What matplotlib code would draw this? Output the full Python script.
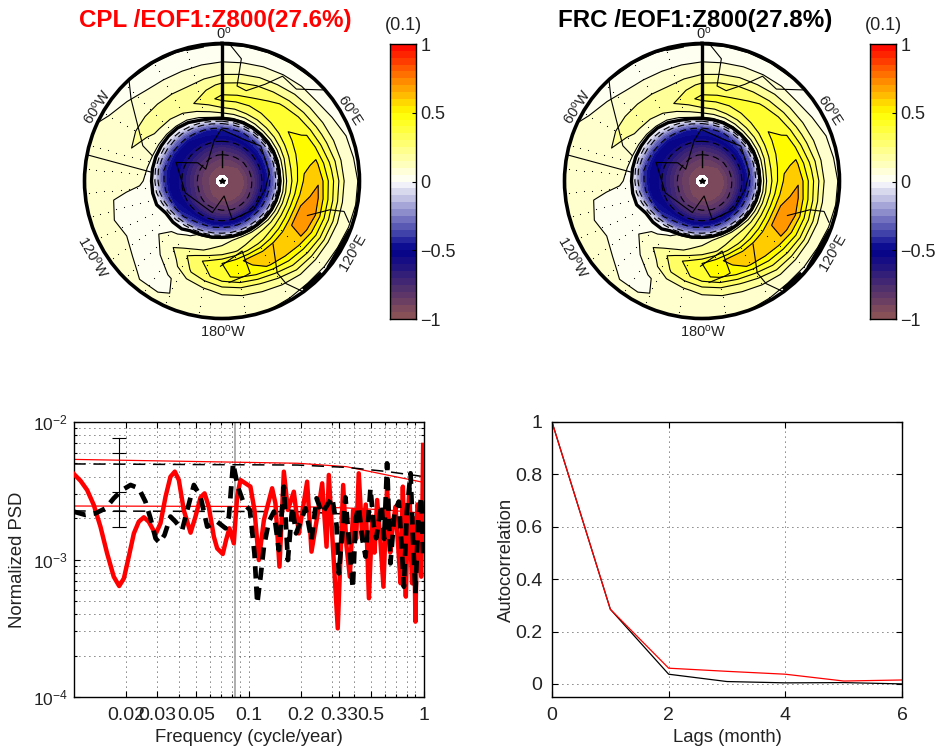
import numpy as np
import matplotlib
matplotlib.use('Agg')
import matplotlib.pyplot as plt
from matplotlib.colors import LinearSegmentedColormap, Normalize
from matplotlib.ticker import NullFormatter

plt.rcParams['font.family'] = ['Liberation Sans', 'DejaVu Sans']
plt.rcParams['mathtext.fontset'] = 'custom'
plt.rcParams['mathtext.rm'] = 'Liberation Sans'
plt.rcParams['mathtext.default'] = 'rm'
plt.rcParams['axes.unicode_minus'] = True

W, H = 936, 747

# EOF map, rows are radius (pole to rim), columns are angle clockwise from top, every 10 deg
map_theta = list(range(0, 360, 10))
map_r = [.05, .15, .25, .32, .38, .43, .47, .52, .6, .7, .8, .9, 1.]
eof_field = [
    [-.95] * 36,
    [-.87, -.87, -.88, -.88, -.89, -.9, -.9, -.91, -.92, -.92, -.93, -.93, -.93, -.93, -.92, -.92, -.92, -.91,
     -.9, -.9, -.89, -.89, -.88, -.87, -.86, -.85, -.85, -.85, -.85, -.85, -.85, -.85, -.85, -.86, -.86, -.87],
    [-.7, -.7, -.7, -.71, -.71, -.72, -.72, -.73, -.73, -.74, -.74, -.74, -.75, -.75, -.75, -.75, -.75, -.74,
     -.74, -.73, -.73, -.72, -.72, -.71, -.7, -.69, -.68, -.68, -.68, -.68, -.68, -.68, -.68, -.69, -.69, -.7],
    [-.52, -.52, -.52, -.52, -.51, -.51, -.5, -.5, -.5, -.5, -.5, -.5, -.5, -.5, -.49, -.49, -.49, -.49,
     -.49, -.5, -.5, -.5, -.51, -.52, -.53, -.54, -.55, -.55, -.55, -.55, -.55, -.55, -.54, -.54, -.53, -.53],
    [-.43, -.42, -.41, -.39, -.37, -.35, -.32, -.3, -.28, -.28, -.28, -.26, -.24, -.22, -.2, -.2, -.2, -.2,
     -.2, -.22, -.25, -.3, -.36, -.42, -.47, -.5, -.52, -.52, -.52, -.52, -.52, -.5, -.5, -.48, -.47, -.45],
    [-.125, -.11, -.1, -.075, -.05, -.025, .001, .03, .06, .06, .06, .08, .1, .12, .15, .15, .15, .14,
     .13, .1, .08, .02, -.05, -.125, -.2, -.275, -.35, -.375, -.4, -.375, -.35, -.325, -.3, -.25, -.2, -.15],
    [.075, .09, .1, .125, .15, .175, .2, .22, .25, .25, .25, .26, .27, .27, .27, .25, .22, .19,
     .15, .12, .1, .06, .03, .015, .001, -.075, -.15, -.175, -.2, -.175, -.15, -.125, -.1, -.05, .001, .05],
    [.22, .23, .25, .27, .3, .32, .34, .36, .38, .38, .4, .42, .42, .4, .37, .33, .28, .24,
     .2, .17, .13, .09, .06, .04, .03, .03, .03, .03, .03, .03, .035, .04, .05, .07, .12, .17],
    [.38, .38, .38, .4, .42, .44, .47, .5, .53, .57, .62, .66, .66, .62, .6, .58, .58, .52,
     .45, .38, .3, .2, .12, .05, .03, .03, .03, .06, .08, .12, .14, .16, .17, .2, .25, .32],
    [.27, .29, .31, .33, .36, .4, .44, .5, .57, .64, .68, .72, .68, .62, .58, .56, .52, .48,
     .42, .32, .24, .12, .05, .03, .03, .03, .04, .07, .11, .15, .17, .18, .18, .18, .18, .22],
    [.11, .13, .15, .16, .18, .2, .23, .27, .33, .38, .4, .42, .42, .38, .35, .28, .24, .22,
     .18, .13, .08, .04, .03, .04, .05, .04, .05, .07, .08, .09, .09, .08, .08, .08, .08, .09],
    [.02, .02, .03, .04, .05, .05, .06, .08, .1, .12, .12, .13, .12, .12, .12, .1, .08, .07,
     .07, .06, .055, .045, .045, .06, .07, .07, .07, .07, .08, .07, .06, .05, .03, .02, .02, .02],
    [0, 0, 0, 0, 0, .01, .02, .03, .03, .04, .04, .03, .02, .02, .02, .04, .05, .06,
     .06, .06, .06, .06, .06, .06, .06, .06, .06, .07, .07, .06, .04, .02, 0, 0, 0, 0],
]
cpl_title = 'CPL /EOF1:Z800(27.6%)'
frc_title = 'FRC /EOF1:Z800(27.8%)'

# coast outlines as (angle, radius)
coast_west = ([317, 312, 294, 290], [.99, .89, .63, .54])
coast_meridian = ([281, 277], [1., .51])
coast_top = ([3, 9, 9, 15, 24, 30, 39, 48], [1., .9, .7, .68, .77, .88, .86, .99])
coast_lower = ([141, 149, 148, 144], [.59, .78, .88, .99])
coast_east = ([112, 105, 104, 108], [.67, .81, .915, .97])
coast_south = ([181, 164, 163, 166, 176], [.62, .53, .7, .71, .74])
coast_inner = ([292, 307, 306, 349, 359, 26, 48, 80, 101, 132, 165, 172, 197, 252, 292],
               [.36, .22, .146, .3, .376, .34, .38, .35, .32, .31, .29, .11, .24, .28, .36])
coasts = [coast_west, coast_meridian, coast_top, coast_lower, coast_east, coast_south, coast_inner]

stipple_theta = [130, 150, 170, 190, 205, 215, 225, 235, 245, 255, 265, 275, 285, 300, 315, 330, 345]
stipple_r = [.56, .62, .68, .74, .8, .86, .92, .97]

# spectrum, log10 values
red_logf = [-1.998, -1.96, -1.922, -1.884, -1.846, -1.808, -1.77, -1.739, -1.712, -1.684, -1.655, -1.627,
            -1.598, -1.57, -1.531, -1.503, -1.474, -1.446, -1.421, -1.398, -1.37, -1.331, -1.303, -1.274,
            -1.251, -1.227, -1.198, -1.179, -1.147, -1.128, -1.109, -1.084, -1.065, -1.046,
            -.989, -.966, -.941, -.912, -.865, -.846, -.823, -.798, -.775, -.741, -.712, -.665, -.64,
            -.604, -.579, -.554, -.541, -.522, -.49, -.459, -.44, -.421, -.402, -.385, -.37, -.35, -.33, -.312,
            -.293, -.28, -.265, -.247, -.229, -.208, -.19, -.175, -.16, -.145, -.131, -.118, -.11, -.101,
            -.09, -.08, -.072, -.065, -.055, -.046, -.035, -.027, -.02, -.013, -.007, -.002]
red_logp = [-2.378, -2.427, -2.495, -2.604, -2.761, -2.955, -3.125, -3.193, -3.137, -2.979, -2.81, -2.725,
            -2.693, -2.725, -2.817, -2.737, -2.543, -2.398, -2.361, -2.422, -2.64, -2.805, -2.688, -2.548,
            -2.519, -2.616, -2.834, -2.919, -2.96, -2.858, -2.773, -2.882, -2.543, -2.422,
            -2.47, -2.64, -3.004, -2.713, -2.482, -2.592, -3.052, -2.361, -2.64, -2.507, -2.81, -2.434, -2.943,
            -2.664, -2.446, -2.907, -2.385, -2.81, -3.501, -2.458, -2.9, -3.125, -2.64, -2.85, -2.373, -2.834, -2.6, -3.282,
            -2.688, -2.95, -2.567, -2.85, -3.198, -2.47, -2.95, -2.75, -2.616, -2.9, -3.173, -2.47, -2.9, -3.27,
            -2.7, -2.482, -2.95, -3.173, -2.7, -3.452, -2.6, -2.64, -3., -3.125, -2.7, -2.167]
black_logf = [-1.998, -1.931, -1.874, -1.817, -1.77, -1.722, -1.674, -1.627, -1.589, -1.56, -1.531, -1.509,
              -1.48, -1.446, -1.417, -1.379, -1.35, -1.312, -1.274, -1.236, -1.179, -1.131, -1.112, -1.088,
              -1.061, -1.027, -.992, -.966, -.95, -.931, -.912, -.884, -.855, -.827, -.798, -.775, -.75,
              -.728, -.674, -.64, -.611, -.579, -.522, -.497, -.484, -.446, -.404, -.387, -.37, -.35, -.331, -.303,
              -.285, -.27, -.24, -.225, -.208, -.189, -.165, -.141, -.125, -.112, -.095, -.074, -.06, -.046,
              -.03, -.013, -.002]
black_logp = [-2.652, -2.676, -2.664, -2.628, -2.555, -2.495, -2.458, -2.482, -2.579, -2.701, -2.846, -2.878,
              -2.822, -2.688, -2.725, -2.785, -2.64, -2.458, -2.543, -2.761, -2.725, -2.773, -2.688, -2.301,
              -2.47, -2.592, -2.64, -2.955, -3.319, -3.125, -2.907, -2.725, -2.652, -2.931, -2.47, -3.004, -2.616,
              -2.81, -2.628, -2.858, -2.555, -2.664, -2.548, -2.749, -3.101, -2.548, -3.21, -2.7, -2.616, -2.85, -2.979, -2.482,
              -2.75, -2.846, -2.6, -2.85, -2.301, -3.028, -2.65, -2.579, -2.9, -3.198, -2.65, -2.373, -2.85, -3.246,
              -2.7, -2.543, -2.955]
conf_logf = [-2, -.72, -.44, -.21, 0]
red_hi_logp = [-2.272, -2.3, -2.325, -2.385, -2.439]
red_lo_logp = [-2.611, -2.615, -2.625, -2.64, -2.664]
black_hi_logp = [-2.305, -2.313, -2.33, -2.36, -2.397]
black_lo_logp = [-2.647, -2.652, -2.67, -2.7, -2.737]
err_logf = -1.739
err_logp = [-2.119, -2.223, -2.512, -2.645, -2.766]
freq_ticks = [.02, .03, .05, .1, .2, .33, .5, 1]
freq_labels = ['0.02', '0.03', '0.05', '0.1', '0.2', '0.33', '0.5', '1']
freq_minor = [.02, .03, .04, .05, .06, .07, .08, .09, .1, .2, .3, .4, .5, .6, .7, .8, .9]
annual = 1 / 12

# autocorrelation
lags = [0, 1, 2, 3, 4, 5, 6]
acf_frc = [1, .285, .037, .009, .004, .005, 0]
acf_cpl = [1, .285, .06, .048, .037, .011, .015]

cmap = LinearSegmentedColormap.from_list('eof', [(.56, .33, .33), (0, 0, .55), (1, 1, 1), (1, 1, 0), (1, 0, 0)])
norm = Normalize(-1, 1)
fill_levels = list(np.arange(-1, -.01, .05)) + [0, .05] + list(np.arange(.15, 1.01, .1))
neg_lines = [-.8, -.6, -.4, -.2, -.1]
pos_lines = list(np.arange(.05, .7, .1))
TXT = '#222222'


def box(x0, y0, x1, y1):
    return [x0 / W, 1 - y1 / H, (x1 - x0) / W, (y1 - y0) / H]


fig = plt.figure(figsize=(9.36, 7.47), dpi=100)


def draw_map(dx, title, title_color):
    cx, cy, rad = 222 + dx, 181, 137.5
    ax = fig.add_axes(box(cx - rad, cy - rad, cx + rad, cy + rad), projection='polar')
    ax.set_theta_zero_location('N')
    ax.set_theta_direction(-1)
    th = np.deg2rad(map_theta + [360])
    z = np.array(eof_field)
    z = np.hstack([z, z[:, :1]])
    ax.contourf(th, map_r, z, levels=fill_levels, cmap=cmap, norm=norm)
    ax.contour(th, map_r, z, levels=neg_lines, colors='k', linewidths=.8, linestyles=[(0, (6, 4))])
    ax.contour(th, map_r, z, levels=pos_lines, colors='k', linewidths=.8, linestyles='-')
    ax.contour(th, map_r, z, levels=[0], colors='k', linewidths=2.4, linestyles='-')
    for t, r in coasts:
        ax.plot(np.deg2rad(t), r, color='k', lw=.8)
    # thick meridian and rim patches
    ax.plot([0, 0], [.46, 1], color='k', lw=2.4, solid_capstyle='butt')
    ax.plot([0, 0], [.1, .22], color='k', lw=1.)
    ax.plot(np.deg2rad([112, 128]), [1, 1], color='k', lw=4)
    ax.plot(np.deg2rad([134, 142]), [.99, .99], color='k', lw=4)
    ax.plot(np.deg2rad([345, 352]), [.985, .985], color='k', lw=1.2)
    st, sr = np.meshgrid(np.deg2rad(stipple_theta), stipple_r)
    ax.scatter(st.ravel(), sr.ravel(), s=.7, color='k', lw=0)
    ax.plot([0], [0], marker='*', ms=4, color='k')
    ax.set_rlim(0, 1)
    ax.set_xticks([])
    ax.set_yticks([])
    ax.grid(False)
    ax.spines['polar'].set_linewidth(2.6)

    lab = [('0$^{o}$', 224, 34, 0), ('60$^{o}$W', 97, 107, 57), ('60$^{o}$E', 350, 110, -57),
           ('120$^{o}$W', 93, 257, -60), ('120$^{o}$E', 353, 253, 60), ('180$^{o}$W', 223, 332, 0)]
    for s, x, y, rot in lab:
        fig.text((x + dx) / W, 1 - y / H, s, ha='center', va='center', rotation=rot, rotation_mode='anchor',
                 fontsize=10.5, color=TXT)
    fig.text((215 + dx) / W, 1 - 20 / H, title, ha='center', va='center', fontsize=17.4, fontweight='bold',
             color=title_color)

    cax = fig.add_axes(box(390 + dx, 44, 416 + dx, 319))
    edges = np.arange(-1, 1.01, .05)
    mids = (edges[:-1] + edges[1:]) / 2
    cax.pcolormesh([0, 1], edges, mids[:, None], cmap=cmap, norm=norm)
    cax.set_xticks([])
    cax.set_yticks([-1, -.5, 0, .5, 1])
    cax.set_yticklabels(['\u22121', '\u22120.5', '0', '0.5', '1'], fontsize=13, color=TXT)
    cax.yaxis.tick_right()
    cax.tick_params(axis='y', direction='in', length=3, width=.8, pad=3)
    for sp in cax.spines.values():
        sp.set_linewidth(1.)
    fig.text((403 + dx) / W, 1 - 25 / H, '(0.1)', ha='center', va='center', fontsize=13, color=TXT)


draw_map(0, cpl_title, 'red')
draw_map(480, frc_title, 'black')

# spectrum panel
ax = fig.add_axes(box(73.5, 422, 423.5, 697))
ax.set_xscale('log')
ax.set_yscale('log')
ax.plot(10 ** np.array(conf_logf), 10 ** np.array(red_hi_logp), color='red', lw=.9)
ax.plot(10 ** np.array(conf_logf), 10 ** np.array(red_lo_logp), color='red', lw=.9)
ax.plot(10 ** np.array(conf_logf), 10 ** np.array(black_hi_logp), color='k', lw=1.1, ls=(0, (8, 5)))
ax.plot(10 ** np.array(conf_logf), 10 ** np.array(black_lo_logp), color='k', lw=1.1, ls=(0, (8, 5)))
ax.axvline(annual, color='#a8a8a8', lw=1.3, zorder=1.5)
ax.plot(10 ** np.array(red_logf), 10 ** np.array(red_logp), color='red', lw=3.2, zorder=3, solid_joinstyle='round')
ax.plot(10 ** np.array(black_logf), 10 ** np.array(black_logp), color='k', lw=3.4, ls=(0, (2.6, 1.7)), zorder=3.5)
err_x = [10 ** err_logf] * 5
ax.plot(err_x, 10 ** np.array(err_logp), color='k', lw=.8, marker='_', ms=10, mew=.8, zorder=5)
ax.set_xlim(.01, 1)
ax.set_ylim(1e-4, 1e-2)
ax.set_xticks(freq_ticks)
ax.set_xticklabels(freq_labels, fontsize=14, color=TXT)
ax.set_xticks(freq_minor, minor=True)
ax.xaxis.set_minor_formatter(NullFormatter())
ax.set_yticks([1e-4, 1e-3, 1e-2])
ax.set_yticklabels(['$10^{\u22124}$', '$10^{\u22123}$', '$10^{\u22122}$'], fontsize=12.5, color=TXT)
ax.grid(True, which='both', color='k', ls=(0, (1, 5)), lw=.6)
ax.set_axisbelow(True)
ax.tick_params(which='both', direction='in', top=True, right=True, width=.8)
ax.tick_params(which='major', length=4, pad=7)
ax.tick_params(axis='y', which='major', pad=4)
ax.tick_params(which='minor', length=2.5)
ax.set_xlabel('Frequency (cycle/year)', fontsize=13.3, color=TXT, labelpad=4)
ax.set_ylabel('Normalized PSD', fontsize=13.3, color=TXT)
ax.yaxis.set_label_coords(-.135, .5)
for sp in ax.spines.values():
    sp.set_linewidth(1.)

# autocorrelation panel
ax = fig.add_axes(box(552, 422, 902, 697))
ax.plot(lags, acf_frc, color='k', lw=.9)
ax.plot(lags, acf_cpl, color='red', lw=.9)
ax.set_xlim(0, 6)
ax.set_ylim(-.05, 1)
ax.set_xticks([0, 2, 4, 6])
ax.set_yticks([0, .2, .4, .6, .8, 1])
ax.set_yticklabels(['0', '0.2', '0.4', '0.6', '0.8', '1'])
ax.grid(True, color='k', ls=(0, (1, 5)), lw=.6)
ax.tick_params(direction='in', top=True, right=True, width=.8, length=4, labelsize=14, labelcolor=TXT, pad=7)
ax.set_xlabel('Lags (month)', fontsize=13.3, color=TXT, labelpad=4)
ax.set_ylabel('Autocorrelation', fontsize=13.3, color=TXT)
ax.yaxis.set_label_coords(-.106, .5)
for sp in ax.spines.values():
    sp.set_linewidth(1.)

fig.savefig('out.png', dpi=100)
